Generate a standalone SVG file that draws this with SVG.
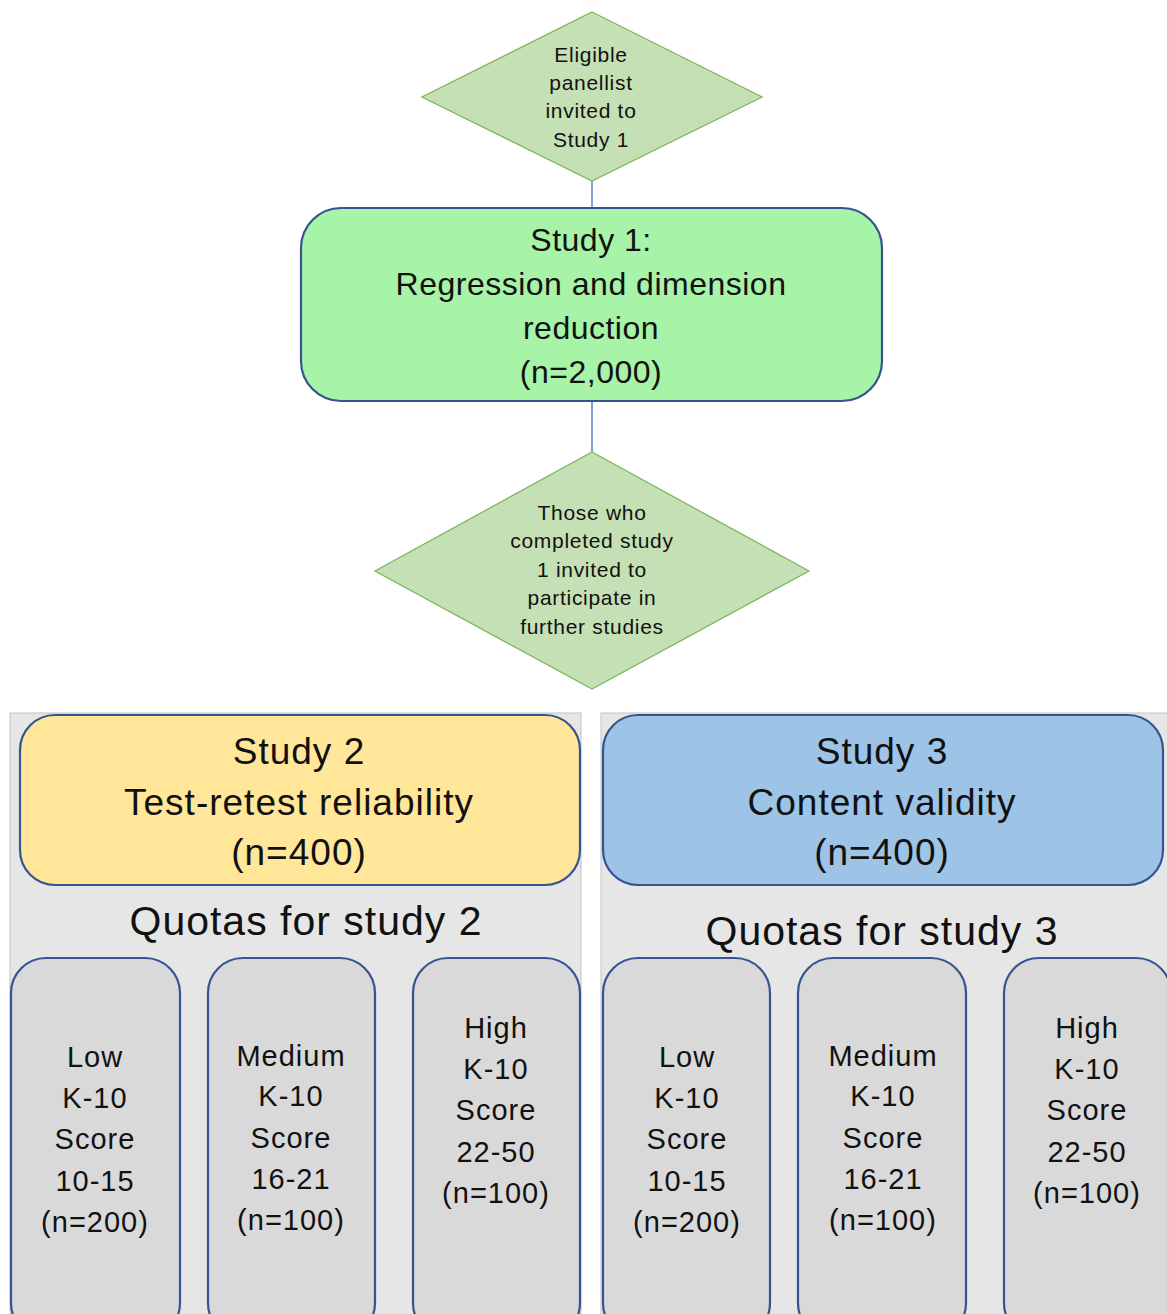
<svg xmlns="http://www.w3.org/2000/svg" width="1167" height="1314" viewBox="0 0 1167 1314">
<style>
text{font-family:"Liberation Sans",Arial,sans-serif;fill:#111;text-anchor:middle}
.dia{fill:#c5e0b4;stroke:#7fb560;stroke-width:1.3}
.conn{stroke:#5b7fc4;stroke-width:1.5;fill:none}
.box{stroke:#34558f;stroke-width:2.2}
.panel{fill:#e7e6e6;stroke:#c4c4c4;stroke-width:1}
.q{fill:#d9d9d9;stroke:#34558f;stroke-width:2.2}
.s20{font-size:21px;letter-spacing:0.7px}
.s30{font-size:32px;letter-spacing:0.5px}
.s34{font-size:37px;letter-spacing:1px}
.s38{font-size:41px;letter-spacing:1px}
.s27{font-size:29px;letter-spacing:1px}
</style>
<rect width="1167" height="1314" fill="#fff"/>
<g id="connectors">
<line class="conn" x1="592" y1="181" x2="592" y2="208"/>
<line class="conn" x1="592" y1="401" x2="592" y2="452"/>
</g>
<g id="eligible">
<polygon class="dia" points="592,12 762,97 592,181 422,97"/>
<text class="s20" x="591" y="62">Eligible</text>
<text class="s20" x="591" y="90">panellist</text>
<text class="s20" x="591" y="118">invited to</text>
<text class="s20" x="591" y="147">Study 1</text>
</g>
<g id="study1">
<rect class="box" x="301" y="208" width="581" height="193" rx="40" fill="#a7f3a7"/>
<text class="s30" x="591" y="251">Study 1:</text>
<text class="s30" x="591" y="295">Regression and dimension</text>
<text class="s30" x="591" y="339">reduction</text>
<text class="s30" x="591" y="383">(n=2,000)</text>
</g>
<g id="completed">
<polygon class="dia" points="592,452 809,571 592,689 375,571"/>
<text class="s20" x="592" y="520">Those who</text>
<text class="s20" x="592" y="548">completed study</text>
<text class="s20" x="592" y="577">1 invited to</text>
<text class="s20" x="592" y="605">participate in</text>
<text class="s20" x="592" y="634">further studies</text>
</g>
<g id="panel2">
<rect class="panel" x="10" y="713" width="571" height="610"/>
</g>
<g id="panel3">
<rect class="panel" x="601" y="713" width="570" height="610"/>
</g>
<g id="study2">
<rect class="box" x="20" y="715" width="560" height="170" rx="35" fill="#ffe699"/>
<text class="s34" x="299" y="764">Study 2</text>
<text class="s34" x="299" y="815">Test-retest reliability</text>
<text class="s34" x="299" y="865">(n=400)</text>
</g>
<g id="study3">
<rect class="box" x="603" y="715" width="560" height="170" rx="35" fill="#9dc3e6"/>
<text class="s34" x="882" y="764">Study 3</text>
<text class="s34" x="882" y="815">Content validity</text>
<text class="s34" x="882" y="865">(n=400)</text>
</g>
<g id="quotas2"><text class="s38" x="306" y="935">Quotas for study 2</text></g>
<g id="quotas3"><text class="s38" x="882" y="945">Quotas for study 3</text></g>
<g id="s2low">
<rect class="q" x="11" y="958" width="169" height="380" rx="35"/>
<text class="s27" x="95" y="1067">Low</text>
<text class="s27" x="95" y="1108">K-10</text>
<text class="s27" x="95" y="1149">Score</text>
<text class="s27" x="95" y="1191">10-15</text>
<text class="s27" x="95" y="1232">(n=200)</text>
</g>
<g id="s2med">
<rect class="q" x="208" y="958" width="167" height="380" rx="35"/>
<text class="s27" x="291" y="1066">Medium</text>
<text class="s27" x="291" y="1106">K-10</text>
<text class="s27" x="291" y="1148">Score</text>
<text class="s27" x="291" y="1189">16-21</text>
<text class="s27" x="291" y="1230">(n=100)</text>
</g>
<g id="s2high">
<rect class="q" x="413" y="958" width="167" height="380" rx="35"/>
<text class="s27" x="496" y="1038">High</text>
<text class="s27" x="496" y="1079">K-10</text>
<text class="s27" x="496" y="1120">Score</text>
<text class="s27" x="496" y="1162">22-50</text>
<text class="s27" x="496" y="1203">(n=100)</text>
</g>
<g id="s3low">
<rect class="q" x="603" y="958" width="167" height="380" rx="35"/>
<text class="s27" x="687" y="1067">Low</text>
<text class="s27" x="687" y="1108">K-10</text>
<text class="s27" x="687" y="1149">Score</text>
<text class="s27" x="687" y="1191">10-15</text>
<text class="s27" x="687" y="1232">(n=200)</text>
</g>
<g id="s3med">
<rect class="q" x="798" y="958" width="168" height="380" rx="35"/>
<text class="s27" x="883" y="1066">Medium</text>
<text class="s27" x="883" y="1106">K-10</text>
<text class="s27" x="883" y="1148">Score</text>
<text class="s27" x="883" y="1189">16-21</text>
<text class="s27" x="883" y="1230">(n=100)</text>
</g>
<g id="s3high">
<rect class="q" x="1004" y="958" width="167" height="380" rx="35"/>
<text class="s27" x="1087" y="1038">High</text>
<text class="s27" x="1087" y="1079">K-10</text>
<text class="s27" x="1087" y="1120">Score</text>
<text class="s27" x="1087" y="1162">22-50</text>
<text class="s27" x="1087" y="1203">(n=100)</text>
</g>
</svg>
